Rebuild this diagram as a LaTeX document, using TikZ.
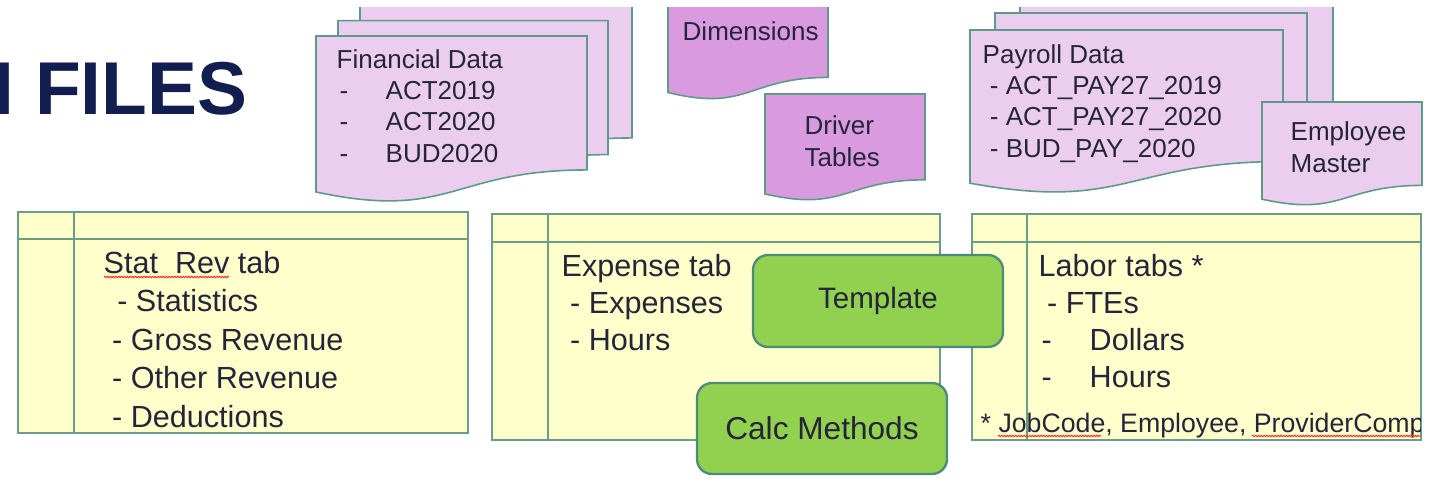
\documentclass[tikz,border=0pt]{standalone}
\usepackage{fontspec}
\setmainfont{Liberation Sans}
\usetikzlibrary{positioning,decorations.pathmorphing}
\definecolor{docFill}{HTML}{EACDEF}
\definecolor{docDark}{HTML}{D99ADF}
\definecolor{docLine}{HTML}{5E9A87}
\definecolor{tabFill}{HTML}{FFFFCC}
\definecolor{tabLine}{HTML}{6A9E88}
\definecolor{calcFill}{HTML}{92D050}
\definecolor{calcLine}{HTML}{4B8A7C}
\definecolor{inkText}{HTML}{25253A}
\definecolor{slideNavy}{HTML}{121E4F}
\definecolor{spellRed}{HTML}{F03A3A}
% flowchart "document" sheet: style, x, y, width, height
\newcommand{\docshape}[5]{%
  \draw[#1] (#2,#3) -- (#2+#4,#3) -- (#2+#4,#3+0.802*#5)
    .. controls (#2+0.5*#4,#3+0.802*#5) and (#2+0.5*#4,#3+1.1075*#5) .. (#2,#3+0.934*#5) -- cycle;}
\newcommand{\ditem}[2]{\makebox[#1][l]{\hspace{0.3mm}-}#2}

\begin{document}
\begin{tikzpicture}[x=0.1mm,y=-0.1mm,
    sheet/.style={draw=docLine,line width=0.45pt,fill=docFill},
    sheetdark/.style={draw=docLine,line width=0.45pt,fill=docDark},
    sheettext/.style={anchor=base west,inner sep=0,align=left,
                      font=\fontsize{7.4}{8.9}\selectfont,text=inkText},
    tabbox/.style={draw=tabLine,line width=0.5pt,fill=tabFill,anchor=north west,inner sep=0},
    tabrule/.style={draw=tabLine,line width=0.5pt},
    tabtext/.style={anchor=base west,inner sep=0,align=left,text=inkText},
    calcbox/.style={draw=calcLine,line width=0.65pt,fill=calcFill,rounded corners=1.5mm,
                    inner sep=0,text=inkText},
    spell/.style={draw=spellRed,line width=0.3pt,decorate,
                  decoration={snake,amplitude=0.07mm,segment length=0.28mm}},
    slidetitle/.style={anchor=base west,inner sep=0,text=slideNavy,
                       font=\fontsize{21.3}{24}\selectfont\bfseries}]
  \useasboundingbox[fill=white] (0,0) rectangle (1433,478);

  \node[slidetitle] (title) at (-7,114) {I FILES};

  % source files, cut at the top of the slide
  \begin{scope}
    \clip (0,7) rectangle (1433,478);
    \docshape{sheet}{360}{4}{272}{167}
    \docshape{sheet}{338}{20.7}{270}{167}
    \docshape{sheet}{316}{36}{271}{167}
    \docshape{sheetdark}{668}{-14}{160}{114}
    \docshape{sheetdark}{765}{94}{160}{107}
    \docshape{sheet}{1020}{-4}{313}{164}
    \docshape{sheet}{995}{13}{312}{164}
    \docshape{sheet}{970}{30}{313}{164}
    \docshape{sheet}{1262}{102}{160}{104}
  \end{scope}
  % multi-line nodes sit on the baseline of their last line
  \node[sheettext] (findata) at (336,162)
    {Financial Data\\\ditem{4.9mm}{ACT2019}\\\ditem{4.9mm}{ACT2020}\\\ditem{4.9mm}{BUD2020}};
  \node[sheettext] (dims) at (682,40) {Dimensions};
  \node[sheettext] (drivers) at (804,166) {Driver\\Tables};
  \node[sheettext] (paydata) at (982,157)
    {Payroll Data\\\ - ACT\_PAY27\_2019\\\ - ACT\_PAY27\_2020\\\ - BUD\_PAY\_2020};
  \node[sheettext] (empmaster) at (1290,172) {Employee\\Master};

  % template tabs
  \node[tabbox,minimum width=45mm,minimum height=22.1mm] (stattab) at (17,211) {};
  \draw[tabrule] ([yshift=-2.8mm]stattab.north west) -- ([yshift=-2.8mm]stattab.north east);
  \draw[tabrule] ([xshift=5.7mm]stattab.north west) -- ([xshift=5.7mm]stattab.south west);
  \node[tabbox,minimum width=44.8mm,minimum height=22.6mm] (exptab) at (491,213) {};
  \draw[tabrule] ([yshift=-2.9mm]exptab.north west) -- ([yshift=-2.9mm]exptab.north east);
  \draw[tabrule] ([xshift=5.7mm]exptab.north west) -- ([xshift=5.7mm]exptab.south west);
  \node[tabbox,minimum width=44.9mm,minimum height=22.6mm] (labtab) at (971,213) {};
  \draw[tabrule] ([yshift=-2.9mm]labtab.north west) -- ([yshift=-2.9mm]labtab.north east);
  \draw[tabrule] ([xshift=5.6mm]labtab.north west) -- ([xshift=5.6mm]labtab.south west);

  \node[tabtext,font=\fontsize{8.7}{10.95}\selectfont] (statlist) at (103,427)
    {Stat\ \ Rev tab\\\ \,- Statistics\\\ - Gross Revenue\\\ - Other Revenue\\\ - Deductions};
  \draw[spell] (104,277) -- (229,277);
  \node[tabtext,font=\fontsize{8.7}{10.5}\selectfont] (explist) at (561,350)
    {Expense tab\\\ - Expenses\\\ - Hours};
  \node[tabtext,font=\fontsize{8.7}{10.5}\selectfont] (lablist) at (1038,387)
    {Labor tabs *\\\ - FTEs\\\ditem{5.1mm}{Dollars}\\\ditem{5.1mm}{Hours}};
  \begin{scope}
    \clip (971,400) rectangle (1420,440);
    \node[tabtext,font=\fontsize{7.6}{9}\selectfont] (labnote) at (980,432)
      {* JobCode, Employee, ProviderComp};
  \end{scope}
  \draw[spell] (998,436) -- (1101,436);
  \draw[spell] (1252,436) -- (1420,436);

  \node[calcbox,minimum width=25mm,minimum height=9.2mm,
        font=\fontsize{8.4}{10}\selectfont] (template) at (878,301) {Template};
  \node[calcbox,minimum width=25mm,minimum height=9.1mm,
        font=\fontsize{9}{11}\selectfont] (calcmeth) at (822,428.5) {Calc Methods};
\end{tikzpicture}
\end{document}
